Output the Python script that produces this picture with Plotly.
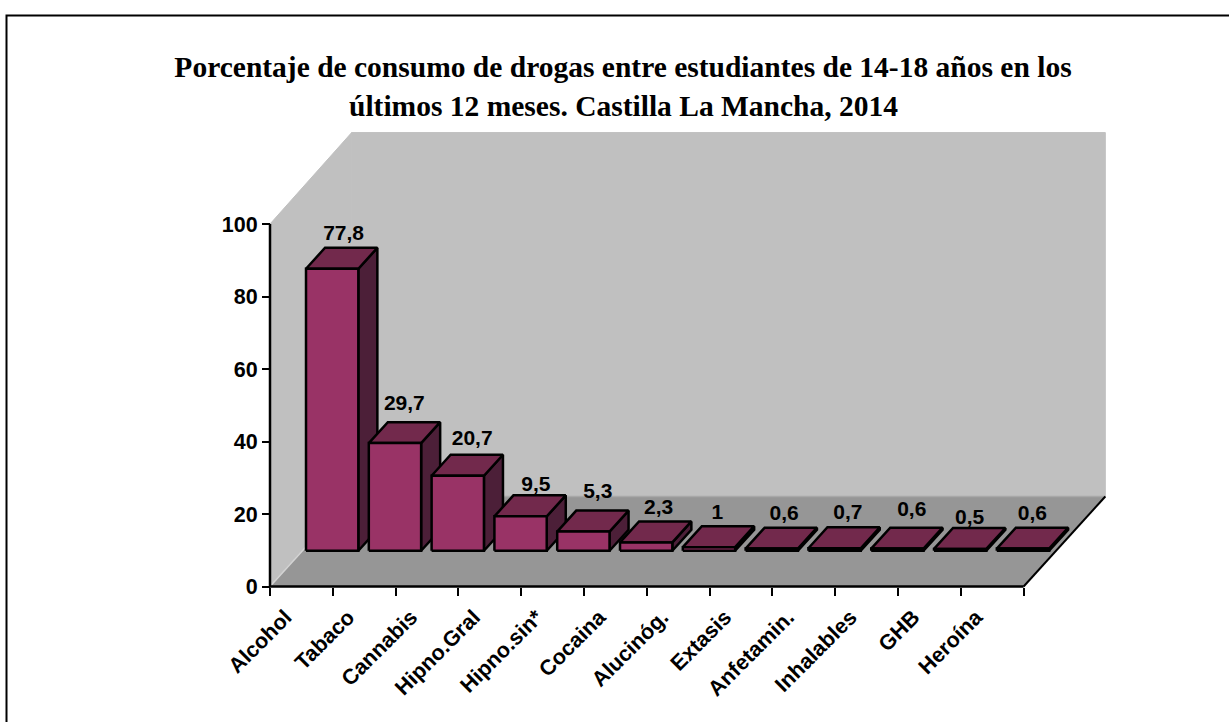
import plotly.graph_objects as go

categories = ["Alcohol", "Tabaco", "Cannabis", "Hipno.Gral", "Hipno.sin*", "Cocaina",
              "Alucinóg.", "Extasis", "Anfetamin.", "Inhalables", "GHB", "Heroína"]
values = [77.8, 29.7, 20.7, 9.5, 5.3, 2.3, 1.0, 0.6, 0.7, 0.6, 0.5, 0.6]
value_labels = ["77,8", "29,7", "20,7", "9,5", "5,3", "2,3", "1", "0,6", "0,7", "0,6", "0,5", "0,6"]
y_ticks = [0, 20, 40, 60, 80, 100]

# layout / style (not data)
W, H = 1229, 722
X0, Y0 = 270.0, 586.5
CAT_PX, UNIT_PX = 62.8, 3.625
DEPTH_X, DEPTH_Y = 81.7 / CAT_PX, 90.0 / UNIT_PX
BAR_L, BAR_R, BAR_D0, BAR_D1 = 0.057, 0.89, 0.397, 0.63
label_lift = [13, 17, 15, 10, 18, 13, 12, 13, 14, 17, 9, 13]  # px above bar top
label_shift = [0, -2, 3, 4, 3, 1, -3, 1, 2, 3, -2, -2]  # px sideways
BAR_LW = 2.5


def proj(x, v, d=0.0):
    return x + d * DEPTH_X, v + d * DEPTH_Y


def poly(points, fill, line_color="black", line_width=BAR_LW):
    xs, ys = zip(*points)
    return go.Scatter(x=list(xs) + [xs[0]], y=list(ys) + [ys[0]], mode="lines", fill="toself",
                      fillcolor=fill, line=dict(color=line_color, width=line_width),
                      hoverinfo="skip", showlegend=False)


def seg(points, color="black", width=2):
    xs, ys = zip(*points)
    return go.Scatter(x=list(xs), y=list(ys), mode="lines", line=dict(color=color, width=width),
                      hoverinfo="skip", showlegend=False)


n = len(categories)
ymax = max(y_ticks)
fig = go.Figure()

# walls and floor
fig.add_trace(poly([proj(0, 0), proj(0, 0, 1), proj(0, ymax + 0.4, 1), proj(0, ymax)], "#c0c0c0", "#c0c0c0", 1))
fig.add_trace(poly([proj(0, 0, 1), proj(n, 0, 1), proj(n, ymax + 0.4, 1), proj(0, ymax + 0.4, 1)], "#c0c0c0", "#c0c0c0", 1))
fig.add_trace(poly([proj(0, 0), proj(n, 0), proj(n, 0, 1), proj(0, 0, 1)], "#969696", "#969696", 1))
fig.add_trace(seg([proj(0, 0, 1), proj(n, 0, 1)], "#a8a8a8", 1.5))
fig.add_trace(seg([proj(0, 0), proj(0, 0, 1)], "#d4d4d4", 1.5))
fig.add_trace(seg([proj(n, 0), proj(n, 0, 1)], "black", 2))

# bars
for i, v in enumerate(values):
    l, r = i + BAR_L, i + BAR_R
    fig.add_trace(poly([proj(r, 0, BAR_D0), proj(r, 0, BAR_D1), proj(r, v, BAR_D1), proj(r, v, BAR_D0)], "#4c1f38"))
    fig.add_trace(poly([proj(l, v, BAR_D0), proj(r, v, BAR_D0), proj(r, v, BAR_D1), proj(l, v, BAR_D1)], "#72294c"))
    fig.add_trace(poly([proj(l, 0, BAR_D0), proj(r, 0, BAR_D0), proj(r, v, BAR_D0), proj(l, v, BAR_D0)], "#993366"))

# axis lines
fig.add_trace(seg([(0, ymax), (0, 0), (n, 0)], "black", 2.5))

# data labels
lab = [proj(i + (BAR_L + BAR_R) / 2, v + label_lift[i] / UNIT_PX, BAR_D1) for i, v in enumerate(values)]
lab_x = [p[0] - 0.5 * (BAR_D1 - BAR_D0) * DEPTH_X + 0.03 + label_shift[i] / CAT_PX for i, p in enumerate(lab)]
fig.add_trace(go.Scatter(x=lab_x, y=[p[1] for p in lab], mode="text", text=value_labels,
                         textposition="middle center",
                         textfont=dict(family="Liberation Sans", size=21, color="black", weight="bold"),
                         hoverinfo="skip", showlegend=False))

fig.update_layout(
    width=W, height=H, autosize=False,
    margin=dict(l=0, r=0, t=0, b=0, pad=0),
    paper_bgcolor="white", plot_bgcolor="white", showlegend=False,
    title=dict(text="<b>Porcentaje de consumo de drogas entre estudiantes de 14-18 años en los</b>",
               x=623 / W, xanchor="center", y=1 - 67 / H, yanchor="middle",
               font=dict(family="Liberation Serif", size=29.5, color="black")),
    annotations=[dict(text="<b>últimos 12 meses. Castilla La Mancha, 2014</b>", xref="paper", yref="paper",
                      x=623 / W, y=1 - 106.5 / H, xanchor="center", yanchor="middle", showarrow=False,
                      font=dict(family="Liberation Serif", size=29.5, color="black"))],
    shapes=[dict(type="path", xref="paper", yref="paper",
                 path=f"M {6.5 / W} 0 L {6.5 / W} {1 - 15.5 / H} L 1 {1 - 15.5 / H}",
                 line=dict(color="black", width=2))],
    xaxis=dict(range=[-X0 / CAT_PX, (W - X0) / CAT_PX], domain=[0, 1], anchor="free", position=(H - Y0) / H,
               showgrid=False, zeroline=False, showline=False, automargin=False,
               tickmode="array", tickvals=[i + 0.5 for i in range(n)], ticktext=categories,
               ticks="", tickangle=-45, ticklabelshift=-16, ticklabelstandoff=13,
               tickfont=dict(family="Liberation Sans", size=21.5, color="black", weight="bold"),
               minor=dict(tickmode="array", tickvals=list(range(n + 1)), ticks="outside", ticklen=8,
                          tickwidth=2, tickcolor="black", showgrid=False)),
    yaxis=dict(range=[-(H - Y0) / UNIT_PX, Y0 / UNIT_PX], domain=[0, 1], anchor="free", position=X0 / W,
               showgrid=False, zeroline=False, showline=False, automargin=False,
               tickmode="array", tickvals=y_ticks, ticks="outside", ticklen=8, tickwidth=2, tickcolor="black",
               tickfont=dict(family="Liberation Sans", size=21.5, color="black", weight="bold")),
)

fig.write_html("out.html", post_script="document.body.style.margin='0';document.body.style.overflow='hidden';",
               config={"displayModeBar": False})
